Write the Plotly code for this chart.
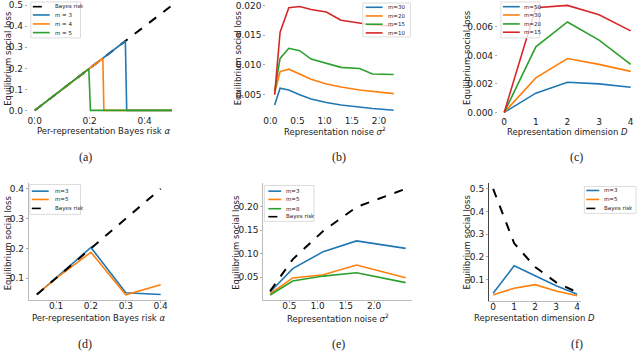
import plotly.graph_objects as go

W, H = 640, 357

BLUE = '#1f77b4'
ORANGE = '#ff7f0e'
GREEN = '#2ca02c'
RED = '#d62728'

# (a) loss vs per-representation Bayes risk
alpha_a_bayes = [0.0, 0.5]
loss_a_bayes = [0.0, 0.5]
alpha_a_m3 = [0.0, 0.33, 0.335, 0.5]
loss_a_m3 = [0.0, 0.33, 0.0, 0.0]
alpha_a_m4 = [0.0, 0.248, 0.252, 0.5]
loss_a_m4 = [0.0, 0.248, 0.0, 0.0]
alpha_a_m5 = [0.0, 0.197, 0.203, 0.5]
loss_a_m5 = [0.0, 0.197, 0.0, 0.0]

# (b) loss vs representation noise
noise_b = [0.08, 0.18, 0.34, 0.54, 0.75, 1.03, 1.30, 1.64, 1.88, 2.27]
loss_b_m30 = [0.0033, 0.0061, 0.0058, 0.0050, 0.0043, 0.0037, 0.0033, 0.0029, 0.0027, 0.0024]
loss_b_m20 = [0.0053, 0.0089, 0.0093, 0.0085, 0.0076, 0.0068, 0.0063, 0.0058, 0.0056, 0.0052]
loss_b_m15 = [0.0056, 0.0111, 0.0128, 0.0124, 0.0110, 0.0103, 0.0096, 0.0094, 0.0085, 0.0084]
loss_b_m10 = [0.0050, 0.0155, 0.0196, 0.0198, 0.0193, 0.0189, 0.0175, 0.0170, 0.0167, 0.0165]

# (c) loss vs representation dimension
dim_c = [0, 1, 2, 3, 4]
loss_c_m50 = [0.0, 0.00135, 0.00212, 0.0020, 0.00177]
loss_c_m30 = [0.0, 0.00242, 0.00378, 0.00337, 0.00288]
loss_c_m20 = [0.0, 0.0046, 0.00635, 0.00507, 0.00337]
loss_c_m15 = [0.0, 0.00735, 0.00751, 0.00686, 0.00572]

# (d)
alpha_d = [0.045, 0.1, 0.2, 0.3, 0.4]
loss_d_m3 = [0.045, 0.101, 0.203, 0.051, 0.045]
loss_d_m5 = [0.045, 0.099, 0.187, 0.044, 0.078]
loss_d_bayes = [0.045, 0.1, 0.2, 0.3, 0.4]

# (e)
noise_e = [0.16, 0.56, 1.1, 1.69, 2.56]
loss_e_m3 = [0.018, 0.068, 0.104, 0.127, 0.111]
loss_e_m5 = [0.0144, 0.048, 0.055, 0.0756, 0.0486]
loss_e_m8 = [0.0116, 0.0415, 0.052, 0.059, 0.038]
loss_e_bayes = [0.020, 0.0877, 0.148, 0.199, 0.238]

# (f)
dim_f = [0, 1, 2, 3, 4]
loss_f_m3 = [0.04, 0.161, 0.117, 0.073, 0.036]
loss_f_m5 = [0.034, 0.062, 0.078, 0.05, 0.029]
loss_f_bayes = [0.5, 0.26, 0.156, 0.088, 0.044]


def px(x):
    return x / W


def py(y):
    return 1 - y / H


fig = go.Figure()

# panel boxes in pixels: x0, x1, y0, y1, xrange, yrange, xticks, yticks, yfmt, spines
panels = [
    (25, 177, 0, 116, [-0.025, 0.525], [-0.025, 0.525], [0.0, 0.2, 0.4], [0, 0.1, 0.2, 0.3, 0.4, 0.5], '.1f', False),
    (265, 400, 0, 116, [-0.073, 2.395], [0.0015, 0.0209], [0, 0.5, 1.0, 1.5, 2.0], [0.005, 0.01, 0.015, 0.02], '.3f', False),
    (498, 638, 0, 117, [-0.2, 4.2], [-0.0003, 0.00789], [0, 1, 2, 3, 4], [0, 0.002, 0.004, 0.006], '.3f', False),
    (26, 165, 184, 301, [0.022, 0.418], [0.026, 0.418], [0.1, 0.2, 0.3, 0.4], [0.1, 0.2, 0.3, 0.4], '.1f', True),
    (262, 412, 184, 301, [0.04, 2.68], [0.0007, 0.2493], [0.5, 1.0, 1.5, 2.0], [0.05, 0.1, 0.15, 0.2], '.2f', True),
    (489, 582, 184, 302, [-0.2, 4.2], [0.0054, 0.5236], [0, 1, 2, 3, 4], [0.1, 0.2, 0.3, 0.4, 0.5], '.1f', True),
]

xfmts = ['.1f', '.1f', 'd', '.1f', '.1f', 'd']

layout = {}
for i, (x0, x1, y0, y1, xr, yr, xt, yt, yf, spine) in enumerate(panels):
    n = '' if i == 0 else str(i + 1)
    layout['xaxis' + n] = dict(
        domain=[px(x0), px(x1)], range=xr, anchor='y' + n,
        tickvals=xt, tickformat=xfmts[i], showgrid=False, zeroline=False,
        ticks='outside', ticklen=2, tickcolor='#aaa', tickfont=dict(size=9, color='#222'),
        ticklabelstandoff=-5,
        showline=spine, linecolor='#bbb', linewidth=1)
    layout['yaxis' + n] = dict(
        domain=[py(y1), py(y0)], range=yr, anchor='x' + n,
        tickvals=yt, tickformat=yf, showgrid=False, zeroline=False,
        ticks='outside', ticklen=2, tickcolor='#aaa', tickfont=dict(size=9, color='#222'),
        showline=spine, linecolor='#bbb', linewidth=1)
layout['yaxis6']['linecolor'] = '#444'


def line(x, y, color, ax, dash='solid', width=1.6):
    n = '' if ax == 1 else str(ax)
    fig.add_trace(go.Scatter(x=x, y=y, mode='lines', xaxis='x' + n, yaxis='y' + n,
                             line=dict(color=color, width=width, dash=dash), showlegend=False))


# (a)
line(alpha_a_bayes, loss_a_bayes, 'black', 1, dash='dash', width=2)
line(alpha_a_m3, loss_a_m3, BLUE, 1)
line(alpha_a_m4, loss_a_m4, ORANGE, 1)
line(alpha_a_m5, loss_a_m5, GREEN, 1)
# (b)
line(noise_b, loss_b_m30, BLUE, 2)
line(noise_b, loss_b_m20, ORANGE, 2)
line(noise_b, loss_b_m15, GREEN, 2)
line(noise_b, loss_b_m10, RED, 2)
# (c)
line(dim_c, loss_c_m50, BLUE, 3)
line(dim_c, loss_c_m30, ORANGE, 3)
line(dim_c, loss_c_m20, GREEN, 3)
line(dim_c, loss_c_m15, RED, 3)
# (d)
line(alpha_d, loss_d_m3, BLUE, 4)
line(alpha_d, loss_d_m5, ORANGE, 4)
line(alpha_d, loss_d_bayes, 'black', 4, dash='dash', width=2)
# (e)
line(noise_e, loss_e_m3, BLUE, 5)
line(noise_e, loss_e_m5, ORANGE, 5)
line(noise_e, loss_e_m8, GREEN, 5)
line(noise_e, loss_e_bayes, 'black', 5, dash='dash', width=2)
# (f)
line(dim_f, loss_f_m3, BLUE, 6)
line(dim_f, loss_f_m5, ORANGE, 6)
line(dim_f, loss_f_bayes, 'black', 6, dash='dash', width=2)

shapes = []
annotations = []


def legend(box, lx0, lx1, tx, ys, entries):
    bx0, by0, bx1, by1 = box
    shapes.append(dict(type='rect', xref='paper', yref='paper', x0=px(bx0), x1=px(bx1),
                       y0=py(by1), y1=py(by0), fillcolor='rgba(255,255,255,0.8)',
                       line=dict(color='#ddd', width=1), layer='above'))
    for yy, (label, color, dash) in zip(ys, entries):
        shapes.append(dict(type='line', xref='paper', yref='paper', x0=px(lx0), x1=px(lx1),
                           y0=py(yy), y1=py(yy), line=dict(color=color, width=1.6, dash=dash),
                           layer='above'))
        annotations.append(dict(text=label, xref='paper', yref='paper', x=px(tx), y=py(yy),
                                xanchor='left', yanchor='middle', showarrow=False,
                                font=dict(size=5.5, color='#222')))


legend((28, 2, 78, 38), 30, 47, 50, [6.7, 15, 24, 32.7],
       [('Bayes risk', 'black', 'dash'), ('m = 3', BLUE, 'solid'),
        ('m = 4', ORANGE, 'solid'), ('m = 5', GREEN, 'solid')])
legend((362, 3, 410, 37), 365, 382, 385, [7.3, 16, 24.3, 33],
       [('m=30', BLUE, 'solid'), ('m=20', ORANGE, 'solid'),
        ('m=15', GREEN, 'solid'), ('m=10', RED, 'solid')])
legend((501, 2, 540, 38), 503, 520, 522, [6.7, 15, 24, 32.3],
       [('m=50', BLUE, 'solid'), ('m=30', ORANGE, 'solid'),
        ('m=20', GREEN, 'solid'), ('m=15', RED, 'solid')])
legend((27, 185, 78, 215), 29, 46, 50, [191.7, 200, 209],
       [('m=3', BLUE, 'solid'), ('m=5', ORANGE, 'solid'), ('Bayes risk', 'black', 'dash')])
legend((263, 186, 313, 222), 267, 280, 283, [191.7, 200, 209.3, 217.3],
       [('m=3', BLUE, 'solid'), ('m=5', ORANGE, 'solid'),
        ('m=8', GREEN, 'solid'), ('Bayes risk', 'black', 'dash')])
legend((585, 187, 637, 214), 587, 600, 603, [191, 200, 209],
       [('m=3', BLUE, 'solid'), ('m=5', ORANGE, 'solid'), ('Bayes risk', 'black', 'dash')])

# axis titles
xtitles = [
    (101, 131, 'Per-representation Bayes risk <i>α</i>'),
    (334, 131, 'Representation noise <i>σ</i><sup>2</sup>'),
    (568, 132, 'Representation dimension <i>D</i>'),
    (96, 319, 'Per-representation Bayes risk <i>α</i>'),
    (337, 319, 'Representation noise <i>σ</i><sup>2</sup>'),
    (535, 319, 'Representation dimension <i>D</i>'),
]
for x, y, t in xtitles:
    annotations.append(dict(text=t, xref='paper', yref='paper', x=px(x), y=py(y),
                            xanchor='center', yanchor='middle', showarrow=False,
                            font=dict(size=8.5, color='#222')))

ytitles = [(5, 58), (236, 58), (467, 58), (5, 243), (235, 243), (467, 243)]
for x, y in ytitles:
    annotations.append(dict(text='Equilibrium social loss', xref='paper', yref='paper',
                            x=px(x), y=py(y), textangle=-90, xanchor='center', yanchor='middle',
                            showarrow=False, font=dict(size=8.5, color='#222')))

captions = [(83, 157, '(a)'), (338, 157, '(b)'), (577, 157, '(c)'),
            (83, 345, '(d)'), (338, 345, '(e)'), (578, 345, '(f)')]
for x, y, t in captions:
    annotations.append(dict(text=t, xref='paper', yref='paper', x=px(x), y=py(y),
                            xanchor='center', yanchor='middle', showarrow=False,
                            font=dict(size=12, color='#222', family='Liberation Serif')))

fig.update_layout(**layout)
fig.update_layout(
    width=W, height=H, margin=dict(l=0, r=0, t=0, b=0),
    paper_bgcolor='white', plot_bgcolor='white',
    font=dict(family='DejaVu Sans', color='#222'),
    shapes=shapes, annotations=annotations, showlegend=False)

# drop the default page margin so the figure sits at the window's corner
fig.write_html('out.html', config={'displayModeBar': False},
               post_script="document.body.style.margin='0';")
